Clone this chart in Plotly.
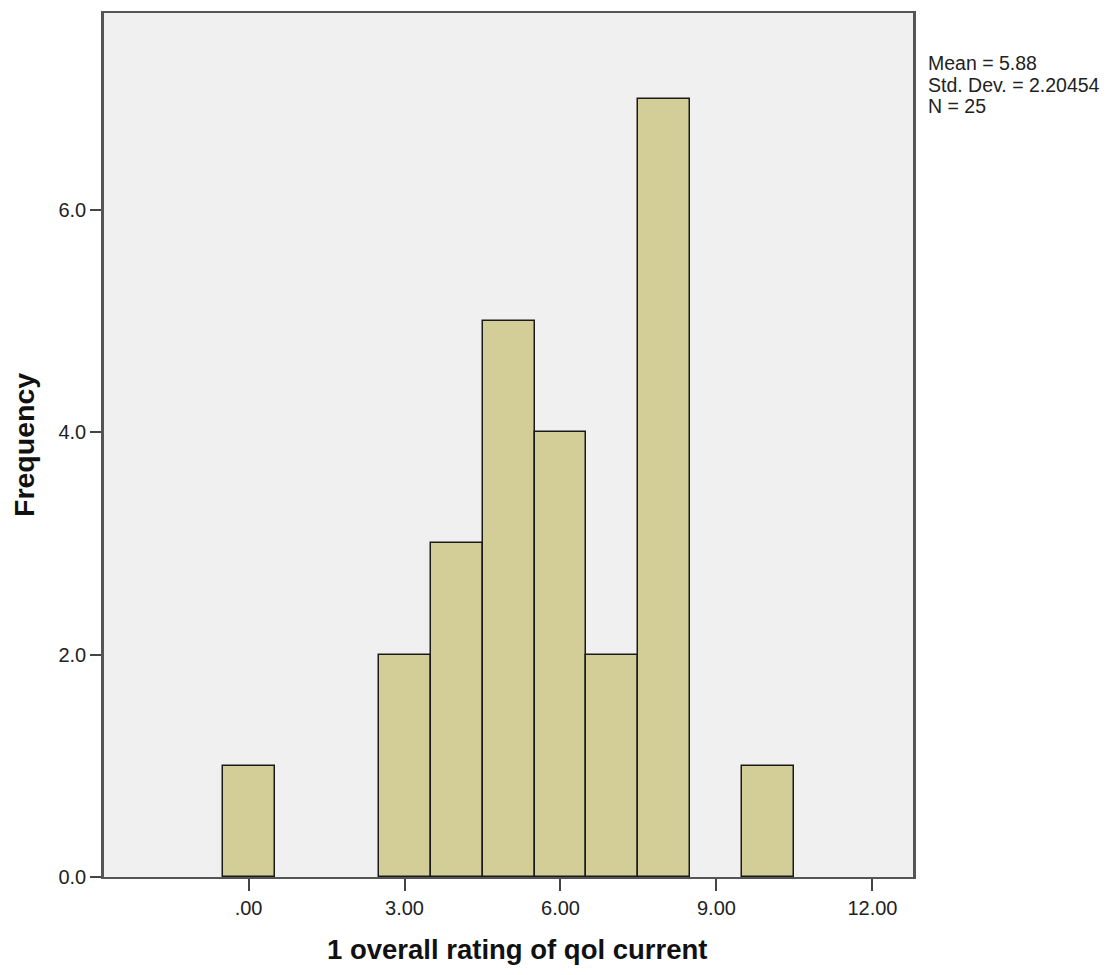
import plotly.graph_objects as go

bin_centers = [0, 3, 4, 5, 6, 7, 8, 10]
frequencies = [1, 2, 3, 5, 4, 2, 7, 1]
x_tick_vals = [0, 3, 6, 9, 12]
x_tick_text = [".00", "3.00", "6.00", "9.00", "12.00"]
y_tick_vals = [0, 2, 4, 6]
y_tick_text = ["0.0", "2.0", "4.0", "6.0"]
stats_lines = ["Mean = 5.88", "Std. Dev. = 2.20454", "N = 25"]
x_title = "1 overall rating of qol current"
y_title = "Frequency"

FONT = "Liberation Sans, Arial, sans-serif"

fig = go.Figure(go.Bar(
    x=bin_centers, y=frequencies, width=1,
    marker=dict(color="#D3CE97", line=dict(color="#1a1a1a", width=1.5)),
    hoverinfo="x+y",
))

fig.update_layout(
    width=1103, height=959,
    margin=dict(l=96, r=198, t=3, b=90),
    paper_bgcolor="white", plot_bgcolor="#F0F0F0",
    showlegend=False,
    font=dict(family=FONT, size=20, color="#222"),
    bargap=0,
)
fig.update_xaxes(
    range=[-2.78, 12.78], tickvals=x_tick_vals, ticktext=x_tick_text,
    ticks="outside", ticklen=12, tickwidth=2, tickcolor="#444",
    tickfont=dict(size=20, color="#222"),
    showline=True, linecolor="#555", linewidth=2, mirror=True,
    showgrid=False, zeroline=False,
)
fig.update_yaxes(
    range=[0, 7.77], tickvals=y_tick_vals, ticktext=y_tick_text,
    ticks="outside", ticklen=11, tickwidth=2, tickcolor="#444",
    tickfont=dict(size=20, color="#222"),
    showline=True, linecolor="#555", linewidth=2.5, mirror=True,
    showgrid=False, zeroline=False,
)
fig.add_annotation(
    x=0.511, y=0, xref="paper", yref="paper", yshift=-72,
    xanchor="center", yanchor="middle", showarrow=False,
    text="<b>" + x_title + "</b>", font=dict(size=27.5, color="#111", family=FONT),
)
fig.add_annotation(
    x=0, y=0.5, xref="paper", yref="paper", xshift=-80,
    xanchor="center", yanchor="middle", showarrow=False, textangle=-90,
    text="<b>" + y_title + "</b>", font=dict(size=28.5, color="#111", family=FONT),
)
for i, line in enumerate(stats_lines):
    fig.add_annotation(
        x=1.0, y=1.0, xref="paper", yref="paper", xshift=13, yshift=-50 - 21.5 * i,
        xanchor="left", yanchor="middle", align="left", showarrow=False,
        text=line, font=dict(size=19.5, color="#222", family=FONT),
    )
fig.write_html("out.html")
